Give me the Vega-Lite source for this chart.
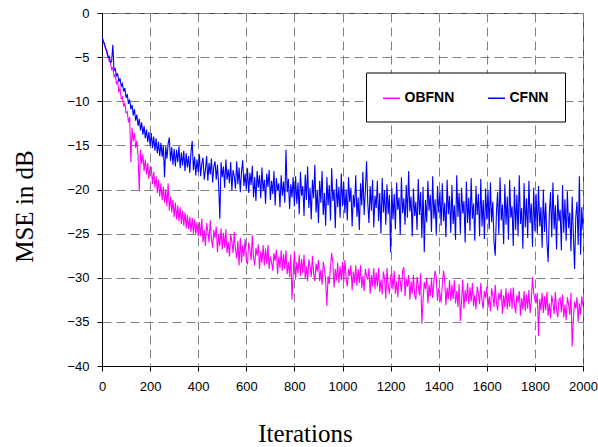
{
"$schema": "https://vega.github.io/schema/vega-lite/v6.json",
"width": 481, "height": 353,
"autosize": {"type": "none"},
"padding": {"left": 102, "top": 13, "right": 15, "bottom": 81},
"background": "white",
"config": {
 "view": {"stroke": "#404040", "strokeWidth": 1},
 "axis": {"labelFont": "Liberation Sans", "labelFontSize": 13, "labelColor": "black", "domainColor": "black", "domainWidth": 1, "tickColor": "black", "tickSize": 5, "grid": true, "gridColor": "#808080", "gridDash": [9, 5], "gridWidth": 1, "titleFont": "Liberation Serif", "titleFontSize": 25, "titleFontWeight": "normal", "titleColor": "black", "labelFlush": false, "labelOverlap": false}
},
"data": {"values": [
{"i":0,"a":-2.8,"b":-2.7},{"i":5,"a":-3.0,"b":-3.3},{"i":10,"a":-3.7,"b":-3.4},{"i":15,"a":-3.9,"b":-4.1},{"i":20,"a":-4.6,"b":-4.2},
{"i":25,"a":-4.8,"b":-5.0},{"i":30,"a":-5.5,"b":-4.9},{"i":35,"a":-5.6,"b":-5.6},{"i":40,"a":-6.4,"b":-5.5},{"i":45,"a":-6.2,"b":-3.6},
{"i":50,"a":-7.2,"b":-6.5},{"i":55,"a":-7.0,"b":-6.3},{"i":60,"a":-8.0,"b":-7.1},{"i":65,"a":-7.8,"b":-6.9},{"i":70,"a":-8.9,"b":-7.8},
{"i":75,"a":-8.6,"b":-7.4},{"i":80,"a":-9.7,"b":-8.3},{"i":85,"a":-9.5,"b":-8.0},{"i":90,"a":-10.6,"b":-8.9},{"i":95,"a":-10.2,"b":-8.5},
{"i":100,"a":-11.3,"b":-9.6},{"i":105,"a":-11.2,"b":-9.2},{"i":110,"a":-12.4,"b":-10.3},{"i":115,"a":-11.8,"b":-9.8},{"i":120,"a":-16.9,"b":-10.9},
{"i":125,"a":-13.0,"b":-10.4},{"i":130,"a":-14.5,"b":-11.6},{"i":135,"a":-13.6,"b":-10.9},{"i":140,"a":-15.3,"b":-12.2},{"i":145,"a":-14.5,"b":-11.5},
{"i":150,"a":-16.2,"b":-12.8},{"i":155,"a":-20.2,"b":-12.0},{"i":160,"a":-15.5,"b":-13.3},{"i":165,"a":-17.1,"b":-12.4},{"i":170,"a":-16.0,"b":-13.8},
{"i":175,"a":-17.9,"b":-12.8},{"i":180,"a":-16.6,"b":-14.2},{"i":185,"a":-18.3,"b":-13.2},{"i":190,"a":-17.0,"b":-14.6},{"i":195,"a":-18.8,"b":-13.5},
{"i":200,"a":-17.4,"b":-15.0},{"i":205,"a":-17.5,"b":-13.6},{"i":210,"a":-19.4,"b":-15.3},{"i":215,"a":-18.0,"b":-14.0},{"i":220,"a":-19.8,"b":-15.6},
{"i":225,"a":-18.5,"b":-14.2},{"i":230,"a":-20.4,"b":-15.9},{"i":235,"a":-18.9,"b":-14.6},{"i":240,"a":-20.8,"b":-16.2},{"i":245,"a":-19.3,"b":-14.7},
{"i":250,"a":-21.2,"b":-16.3},{"i":255,"a":-19.7,"b":-15.0},{"i":260,"a":-21.5,"b":-18.6},{"i":265,"a":-20.0,"b":-15.1},{"i":270,"a":-21.9,"b":-16.5},
{"i":275,"a":-19.3,"b":-14.8},{"i":280,"a":-22.4,"b":-14.1},{"i":285,"a":-20.8,"b":-16.8},{"i":290,"a":-22.6,"b":-15.2},{"i":295,"a":-21.2,"b":-17.2},
{"i":300,"a":-23.1,"b":-15.4},{"i":305,"a":-21.5,"b":-17.4},{"i":310,"a":-23.4,"b":-15.5},{"i":315,"a":-21.8,"b":-16.9},{"i":320,"a":-23.6,"b":-15.1},
{"i":325,"a":-22.0,"b":-17.6},{"i":330,"a":-23.9,"b":-15.8},{"i":335,"a":-22.4,"b":-17.3},{"i":340,"a":-24.1,"b":-15.6},{"i":345,"a":-22.6,"b":-17.9},
{"i":350,"a":-24.4,"b":-15.9},{"i":355,"a":-22.9,"b":-17.5},{"i":360,"a":-24.5,"b":-16.2},{"i":365,"a":-23.1,"b":-18.1},{"i":370,"a":-24.8,"b":-15.8},
{"i":375,"a":-23.2,"b":-14.5},{"i":380,"a":-25.0,"b":-17.8},{"i":385,"a":-23.4,"b":-16.3},{"i":390,"a":-25.1,"b":-18.4},{"i":395,"a":-23.7,"b":-16.6},
{"i":400,"a":-25.3,"b":-18.0},{"i":405,"a":-23.7,"b":-16.0},{"i":410,"a":-25.3,"b":-18.5},{"i":415,"a":-23.3,"b":-17.1},{"i":420,"a":-26.0,"b":-16.4},
{"i":425,"a":-24.6,"b":-18.9},{"i":430,"a":-26.4,"b":-17.8},{"i":435,"a":-23.8,"b":-16.2},{"i":440,"a":-24.7,"b":-19.0},{"i":445,"a":-26.0,"b":-17.0},
{"i":450,"a":-23.5,"b":-18.3},{"i":455,"a":-25.6,"b":-16.5},{"i":460,"a":-26.6,"b":-19.2},{"i":465,"a":-24.6,"b":-17.4},{"i":470,"a":-25.5,"b":-16.8},
{"i":475,"a":-24.2,"b":-18.9},{"i":480,"a":-27.1,"b":-17.2},{"i":485,"a":-25.1,"b":-19.5},{"i":490,"a":-26.4,"b":-23.3},{"i":495,"a":-24.4,"b":-16.9},
{"i":500,"a":-26.8,"b":-18.6},{"i":505,"a":-24.9,"b":-17.4},{"i":510,"a":-26.6,"b":-19.8},{"i":515,"a":-24.5,"b":-16.6},{"i":520,"a":-27.2,"b":-18.9},
{"i":525,"a":-25.9,"b":-17.7},{"i":530,"a":-27.6,"b":-19.3},{"i":535,"a":-25.1,"b":-16.9},{"i":540,"a":-25.9,"b":-20.1},{"i":545,"a":-27.2,"b":-17.8},
{"i":550,"a":-24.8,"b":-18.5},{"i":555,"a":-26.8,"b":-19.9},{"i":560,"a":-27.8,"b":-16.8},{"i":565,"a":-25.8,"b":-19.4},{"i":570,"a":-28.6,"b":-17.5},
{"i":575,"a":-25.5,"b":-20.3},{"i":580,"a":-28.3,"b":-18.0},{"i":585,"a":-26.3,"b":-16.7},{"i":590,"a":-27.6,"b":-19.6},{"i":595,"a":-25.6,"b":-18.2},
{"i":600,"a":-28.0,"b":-20.0},{"i":605,"a":-28.5,"b":-17.6},{"i":610,"a":-26.0,"b":-20.4},{"i":615,"a":-26.8,"b":-18.1},{"i":620,"a":-28.0,"b":-19.5},
{"i":625,"a":-25.2,"b":-17.3},{"i":630,"a":-27.6,"b":-20.9},{"i":635,"a":-28.6,"b":-18.6},{"i":640,"a":-26.6,"b":-21.3},{"i":645,"a":-27.5,"b":-17.9},
{"i":650,"a":-26.2,"b":-19.8},{"i":655,"a":-29.0,"b":-18.4},{"i":660,"a":-27.0,"b":-21.0},{"i":665,"a":-28.3,"b":-17.5},{"i":670,"a":-26.3,"b":-20.2},
{"i":675,"a":-28.6,"b":-18.9},{"i":680,"a":-26.7,"b":-21.6},{"i":685,"a":-28.4,"b":-18.2},{"i":690,"a":-26.3,"b":-19.7},{"i":695,"a":-29.0,"b":-17.8},
{"i":700,"a":-27.6,"b":-21.2},{"i":705,"a":-28.2,"b":-19.0},{"i":710,"a":-29.2,"b":-20.5},{"i":715,"a":-27.2,"b":-17.9},{"i":720,"a":-28.1,"b":-21.8},
{"i":725,"a":-26.8,"b":-18.7},{"i":730,"a":-29.6,"b":-20.1},{"i":735,"a":-27.6,"b":-19.3},{"i":740,"a":-28.9,"b":-22.0},{"i":745,"a":-26.9,"b":-18.4},
{"i":750,"a":-29.2,"b":-20.7},{"i":755,"a":-27.3,"b":-19.1},{"i":760,"a":-29.0,"b":-21.5},{"i":765,"a":-26.9,"b":-15.5},{"i":770,"a":-29.6,"b":-20.3},
{"i":775,"a":-28.2,"b":-18.8},{"i":780,"a":-29.9,"b":-22.2},{"i":785,"a":-27.4,"b":-19.4},{"i":790,"a":-32.5,"b":-20.9},{"i":795,"a":-29.5,"b":-18.6},
{"i":800,"a":-27.0,"b":-21.9},{"i":805,"a":-30.2,"b":-18.5},{"i":810,"a":-28.2,"b":-21.6},{"i":815,"a":-29.5,"b":-19.2},{"i":820,"a":-27.4,"b":-22.8},
{"i":825,"a":-29.8,"b":-18.0},{"i":830,"a":-27.9,"b":-20.7},{"i":835,"a":-29.5,"b":-19.6},{"i":840,"a":-27.4,"b":-23.0},{"i":845,"a":-30.1,"b":-18.3},
{"i":850,"a":-28.7,"b":-21.2},{"i":855,"a":-30.4,"b":-17.4},{"i":860,"a":-27.9,"b":-22.1},{"i":865,"a":-28.7,"b":-19.8},{"i":870,"a":-29.9,"b":-23.4},
{"i":875,"a":-27.5,"b":-18.9},{"i":880,"a":-29.5,"b":-21.0},{"i":885,"a":-30.4,"b":-17.2},{"i":890,"a":-28.4,"b":-22.6},{"i":895,"a":-29.3,"b":-20.1},
{"i":900,"a":-28.0,"b":-23.8},{"i":905,"a":-30.4,"b":-19.0},{"i":910,"a":-29.1,"b":-21.5},{"i":915,"a":-30.8,"b":-17.9},{"i":920,"a":-28.2,"b":-22.9},
{"i":925,"a":-29.0,"b":-20.4},{"i":930,"a":-30.3,"b":-24.1},{"i":935,"a":-33.2,"b":-18.6},{"i":940,"a":-29.8,"b":-21.8},{"i":945,"a":-30.7,"b":-19.5},
{"i":950,"a":-28.8,"b":-23.5},{"i":955,"a":-27.2,"b":-17.6},{"i":960,"a":-28.3,"b":-21.3},{"i":965,"a":-31.1,"b":-20.0},{"i":970,"a":-29.0,"b":-24.4},
{"i":975,"a":-30.3,"b":-18.8},{"i":980,"a":-28.3,"b":-22.0},{"i":985,"a":-30.6,"b":-19.7},{"i":990,"a":-28.7,"b":-23.2},{"i":995,"a":-30.3,"b":-18.2},
{"i":1000,"a":-28.2,"b":-21.9},{"i":1005,"a":-30.5,"b":-19.1},{"i":1010,"a":-28.0,"b":-22.7},{"i":1015,"a":-30.1,"b":-20.0},{"i":1020,"a":-31.0,"b":-23.5},
{"i":1025,"a":-29.0,"b":-18.6},{"i":1030,"a":-29.8,"b":-21.4},{"i":1035,"a":-28.6,"b":-19.8},{"i":1040,"a":-31.4,"b":-24.2},{"i":1045,"a":-29.3,"b":-20.6},
{"i":1050,"a":-30.6,"b":-22.0},{"i":1055,"a":-28.6,"b":-18.4},{"i":1060,"a":-30.9,"b":-23.1},{"i":1065,"a":-29.0,"b":-20.9},{"i":1070,"a":-30.6,"b":-24.6},
{"i":1075,"a":-28.6,"b":-19.3},{"i":1080,"a":-31.2,"b":-21.8},{"i":1085,"a":-29.8,"b":-18.0},{"i":1090,"a":-31.5,"b":-22.9},{"i":1095,"a":-29.0,"b":-20.2},
{"i":1100,"a":-29.8,"b":-16.8},{"i":1105,"a":-30.2,"b":-21.5},{"i":1110,"a":-28.9,"b":-23.8},{"i":1115,"a":-31.8,"b":-19.6},{"i":1120,"a":-29.7,"b":-22.4},
{"i":1125,"a":-31.0,"b":-18.9},{"i":1130,"a":-28.9,"b":-24.3},{"i":1135,"a":-31.3,"b":-20.7},{"i":1140,"a":-29.4,"b":-22.1},{"i":1145,"a":-31.0,"b":-19.0},
{"i":1150,"a":-28.9,"b":-23.6},{"i":1155,"a":-31.6,"b":-20.4},{"i":1160,"a":-30.2,"b":-25.0},{"i":1165,"a":-31.9,"b":-18.7},{"i":1170,"a":-29.3,"b":-22.6},
{"i":1175,"a":-30.1,"b":-20.1},{"i":1180,"a":-32.4,"b":-24.0},{"i":1185,"a":-28.9,"b":-19.4},{"i":1190,"a":-30.9,"b":-22.8},{"i":1195,"a":-31.8,"b":-20.6},
{"i":1200,"a":-29.8,"b":-27.1},{"i":1205,"a":-29.6,"b":-19.8},{"i":1210,"a":-31.3,"b":-23.4},{"i":1215,"a":-29.2,"b":-20.5},{"i":1220,"a":-31.8,"b":-24.5},
{"i":1225,"a":-30.4,"b":-19.2},{"i":1230,"a":-32.2,"b":-22.3},{"i":1235,"a":-29.6,"b":-20.9},{"i":1240,"a":-30.4,"b":-25.1},{"i":1245,"a":-31.6,"b":-18.6},
{"i":1250,"a":-29.2,"b":-22.7},{"i":1255,"a":-28.8,"b":-21.0},{"i":1260,"a":-32.1,"b":-24.0},{"i":1265,"a":-30.1,"b":-19.5},{"i":1270,"a":-31.0,"b":-23.2},
{"i":1275,"a":-29.7,"b":-17.9},{"i":1280,"a":-32.5,"b":-22.5},{"i":1285,"a":-30.4,"b":-20.8},{"i":1290,"a":-31.8,"b":-25.3},{"i":1295,"a":-29.7,"b":-19.9},
{"i":1300,"a":-32.0,"b":-23.0},{"i":1305,"a":-32.5,"b":-21.4},{"i":1310,"a":-29.9,"b":-24.6},{"i":1315,"a":-30.8,"b":-18.8},{"i":1320,"a":-32.0,"b":-22.9},
{"i":1325,"a":-29.5,"b":-20.3},{"i":1330,"a":-35.2,"b":-25.5},{"i":1335,"a":-32.5,"b":-19.7},{"i":1340,"a":-30.5,"b":-27.1},{"i":1345,"a":-31.3,"b":-21.2},
{"i":1350,"a":-30.0,"b":-23.7},{"i":1355,"a":-32.9,"b":-19.0},{"i":1360,"a":-30.8,"b":-22.4},{"i":1365,"a":-32.1,"b":-20.6},{"i":1370,"a":-30.0,"b":-24.8},
{"i":1375,"a":-32.3,"b":-18.5},{"i":1380,"a":-30.5,"b":-23.3},{"i":1385,"a":-29.2,"b":-21.1},{"i":1390,"a":-30.0,"b":-25.2},{"i":1395,"a":-32.6,"b":-19.6},
{"i":1400,"a":-31.2,"b":-22.6},{"i":1405,"a":-31.8,"b":-20.2},{"i":1410,"a":-32.8,"b":-24.1},{"i":1415,"a":-30.8,"b":-19.3},{"i":1420,"a":-29.2,"b":-23.6},
{"i":1425,"a":-30.3,"b":-21.5},{"i":1430,"a":-33.1,"b":-25.4},{"i":1435,"a":-31.1,"b":-18.9},{"i":1440,"a":-32.4,"b":-22.8},{"i":1445,"a":-30.3,"b":-20.7},
{"i":1450,"a":-32.6,"b":-24.9},{"i":1455,"a":-30.8,"b":-19.5},{"i":1460,"a":-32.4,"b":-23.9},{"i":1465,"a":-30.3,"b":-21.8},{"i":1470,"a":-32.9,"b":-25.7},
{"i":1475,"a":-31.5,"b":-18.4},{"i":1480,"a":-33.3,"b":-23.1},{"i":1485,"a":-30.7,"b":-20.4},{"i":1490,"a":-34.9,"b":-25.0},{"i":1495,"a":-32.7,"b":-19.8},
{"i":1500,"a":-30.2,"b":-22.7},{"i":1505,"a":-33.5,"b":-21.3},{"i":1510,"a":-31.4,"b":-26.0},{"i":1515,"a":-32.7,"b":-19.1},{"i":1520,"a":-30.6,"b":-23.8},
{"i":1525,"a":-33.0,"b":-20.9},{"i":1530,"a":-31.1,"b":-24.7},{"i":1535,"a":-32.7,"b":-18.7},{"i":1540,"a":-30.6,"b":-23.3},{"i":1545,"a":-33.2,"b":-21.6},
{"i":1550,"a":-31.9,"b":-25.8},{"i":1555,"a":-33.6,"b":-19.6},{"i":1560,"a":-31.0,"b":-22.9},{"i":1565,"a":-31.8,"b":-20.5},{"i":1570,"a":-33.0,"b":-25.3},
{"i":1575,"a":-30.6,"b":-18.8},{"i":1580,"a":-32.6,"b":-24.2},{"i":1585,"a":-33.5,"b":-21.2},{"i":1590,"a":-31.5,"b":-25.6},{"i":1595,"a":-32.3,"b":-19.9},
{"i":1600,"a":-31.0,"b":-23.4},{"i":1605,"a":-33.4,"b":-20.1},{"i":1610,"a":-32.1,"b":-24.5},{"i":1615,"a":-33.8,"b":-19.2},{"i":1620,"a":-31.2,"b":-23.7},
{"i":1625,"a":-32.0,"b":-21.4},{"i":1630,"a":-33.3,"b":-25.9},{"i":1635,"a":-30.8,"b":-27.5},{"i":1640,"a":-32.8,"b":-22.6},{"i":1645,"a":-33.7,"b":-20.3},
{"i":1650,"a":-31.7,"b":-25.1},{"i":1655,"a":-32.5,"b":-18.6},{"i":1660,"a":-31.3,"b":-23.5},{"i":1665,"a":-34.1,"b":-21.7},{"i":1670,"a":-32.0,"b":-26.2},
{"i":1675,"a":-33.3,"b":-19.4},{"i":1680,"a":-31.2,"b":-24.0},{"i":1685,"a":-33.6,"b":-20.8},{"i":1690,"a":-31.7,"b":-25.7},{"i":1695,"a":-33.3,"b":-18.9},
{"i":1700,"a":-31.2,"b":-23.2},{"i":1705,"a":-33.5,"b":-21.9},{"i":1710,"a":-31.1,"b":-26.4},{"i":1715,"a":-33.1,"b":-19.7},{"i":1720,"a":-34.0,"b":-24.6},
{"i":1725,"a":-32.0,"b":-20.6},{"i":1730,"a":-32.8,"b":-25.3},{"i":1735,"a":-31.5,"b":-18.4},{"i":1740,"a":-34.3,"b":-23.9},{"i":1745,"a":-32.3,"b":-22.1},
{"i":1750,"a":-33.6,"b":-26.7},{"i":1755,"a":-31.5,"b":-19.3},{"i":1760,"a":-33.8,"b":-24.3},{"i":1765,"a":-31.9,"b":-21.0},{"i":1770,"a":-33.5,"b":-25.5},
{"i":1775,"a":-31.4,"b":-19.0},{"i":1780,"a":-34.0,"b":-23.8},{"i":1785,"a":-32.6,"b":-21.6},{"i":1790,"a":-29.9,"b":-26.5},{"i":1795,"a":-31.7,"b":-19.8},
{"i":1800,"a":-32.5,"b":-24.7},{"i":1805,"a":-32.9,"b":-20.5},{"i":1810,"a":-31.7,"b":-25.0},{"i":1815,"a":-36.6,"b":-19.6},{"i":1820,"a":-32.4,"b":-24.2},
{"i":1825,"a":-33.7,"b":-22.0},{"i":1830,"a":-31.7,"b":-26.6},{"i":1835,"a":-34.0,"b":-20.0},{"i":1840,"a":-32.1,"b":-24.8},{"i":1845,"a":-33.7,"b":-21.5},
{"i":1850,"a":-31.6,"b":-25.9},{"i":1855,"a":-34.3,"b":-28.2},{"i":1860,"a":-32.9,"b":-22.7},{"i":1865,"a":-34.6,"b":-20.3},{"i":1870,"a":-32.0,"b":-25.4},
{"i":1875,"a":-32.8,"b":-19.2},{"i":1880,"a":-34.1,"b":-24.5},{"i":1885,"a":-31.6,"b":-21.8},{"i":1890,"a":-33.6,"b":-26.8},{"i":1895,"a":-34.5,"b":-20.6},
{"i":1900,"a":-32.5,"b":-23.6},{"i":1905,"a":-32.3,"b":-22.3},{"i":1910,"a":-33.9,"b":-26.9},{"i":1915,"a":-31.9,"b":-19.5},{"i":1920,"a":-34.5,"b":-24.9},
{"i":1925,"a":-33.1,"b":-21.1},{"i":1930,"a":-34.8,"b":-25.8},{"i":1935,"a":-32.2,"b":-20.2},{"i":1940,"a":-33.0,"b":-24.4},{"i":1945,"a":-34.2,"b":-22.6},
{"i":1950,"a":-31.7,"b":-27.0},{"i":1955,"a":-37.8,"b":-20.8},{"i":1960,"a":-34.7,"b":-25.2},{"i":1965,"a":-32.7,"b":-29.0},{"i":1970,"a":-33.5,"b":-23.1},
{"i":1975,"a":-32.2,"b":-21.4},{"i":1980,"a":-35.0,"b":-26.3},{"i":1985,"a":-32.9,"b":-18.5},{"i":1990,"a":-34.2,"b":-27.4},{"i":1995,"a":-32.1,"b":-22.0},
{"i":2000,"a":-33.2,"b":-24.6}
]},
"encoding": {
 "x": {"field": "i", "type": "quantitative", "scale": {"domain": [0, 2000], "nice": false, "zero": false},
  "axis": {"values": [0,200,400,600,800,1000,1200,1400,1600,1800,2000], "format": "d", "labelPadding": 9, "title": "Iterations", "titleX": 203, "titleY": 75, "titleBaseline": "alphabetic", "titleAlign": "center"}}
},
"layer": [
 {"mark": {"type": "line", "strokeWidth": 1.1, "clip": true},
  "encoding": {
   "y": {"field": "a", "type": "quantitative", "scale": {"domain": [-40, 0], "nice": false},
    "axis": {"values": [-40,-35,-30,-25,-20,-15,-10,-5,0], "format": "d", "labelPadding": 8, "title": "MSE in dB", "titleX": -70, "titleY": 193, "titleAngle": 270, "titleBaseline": "alphabetic", "titleAlign": "center"}},
   "color": {"datum": "OBFNN", "type": "nominal", "scale": {"domain": ["OBFNN", "CFNN"], "range": ["#FF00FF", "#0000FF"]},
    "legend": {"orient": "none", "legendX": 264, "legendY": 59.5, "direction": "horizontal", "title": null, "symbolType": "stroke", "symbolSize": 289, "symbolStrokeWidth": 1.5, "labelFont": "Liberation Sans", "labelFontWeight": "bold", "labelFontSize": 14, "labelColor": "black", "labelOffset": 3.5, "columnPadding": 30, "padding": 16, "strokeColor": "black", "fillColor": "white", "cornerRadius": 0}}
  }},
 {"mark": {"type": "line", "strokeWidth": 1.1, "clip": true},
  "encoding": {
   "y": {"field": "b", "type": "quantitative", "title": "MSE in dB"},
   "color": {"datum": "CFNN", "type": "nominal"}
  }}
]
}
